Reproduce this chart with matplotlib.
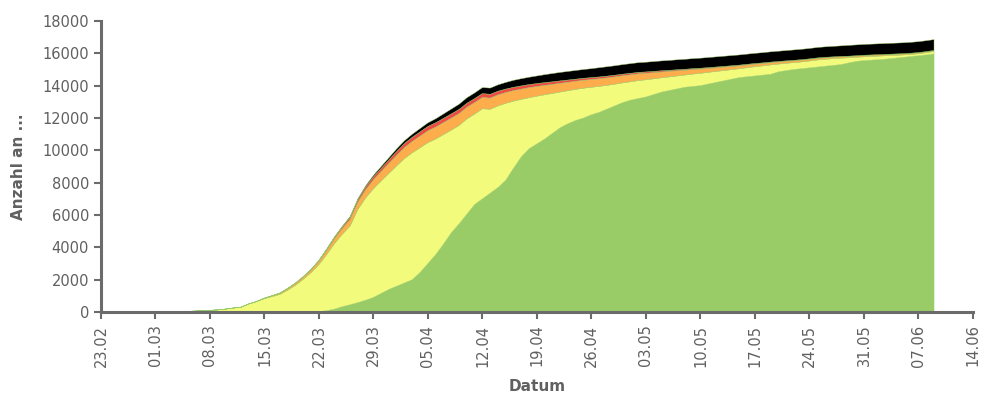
import matplotlib
matplotlib.use("Agg")
import matplotlib.pyplot as plt
import matplotlib.dates as mdates
import numpy as np
import pandas as pd

# daily values from 23.02 to 09.06
dates = pd.date_range("2020-02-23", periods=108, freq="D")

confirmed = [
    0, 0, 2, 3, 3, 5, 9, 14, 18, 24,
    29, 41, 55, 79, 104, 131, 182, 246, 302, 504,
    655, 860, 1016, 1180, 1470, 1800, 2200, 2650, 3200, 3900,
    4650, 5300, 5900, 7000, 7800, 8450, 9000, 9550, 10100, 10600,
    11000, 11350, 11700, 11950, 12250, 12550, 12850, 13250, 13550, 13880,
    13850, 14050, 14200, 14330, 14430, 14520, 14600, 14680, 14750, 14820,
    14880, 14940, 15000, 15050, 15110, 15170, 15230, 15300, 15360, 15420,
    15450, 15490, 15530, 15560, 15600, 15630, 15670, 15700, 15740, 15780,
    15820, 15860, 15900, 15950, 16000, 16040, 16090, 16130, 16170, 16210,
    16250, 16300, 16360, 16400, 16430, 16460, 16490, 16520, 16550, 16570,
    16590, 16610, 16630, 16650, 16680, 16720, 16780, 16850,
]
recovered = [
    0, 0, 0, 0, 0, 0, 0, 0, 0, 0,
    0, 0, 0, 0, 0, 0, 0, 0, 0, 0,
    0, 0, 0, 0, 0, 0, 9, 9, 30, 80,
    180, 330, 450, 580, 730, 900, 1150, 1400, 1600, 1800,
    2000, 2450, 3000, 3550, 4200, 4900, 5450, 6050, 6650, 7000,
    7350, 7700, 8150, 8900, 9600, 10100, 10400, 10700, 11050, 11400,
    11650, 11850, 12000, 12200, 12350, 12550, 12750, 12950, 13100, 13200,
    13300, 13450, 13600, 13700, 13800, 13900, 13950, 14000, 14100, 14200,
    14300, 14400, 14500, 14550, 14600, 14650, 14700, 14850, 14930, 15000,
    15050, 15100, 15150, 15200, 15250, 15300, 15400, 15500, 15550, 15580,
    15610, 15650, 15700, 15750, 15800, 15850, 15900, 15960,
]
hospital = [
    0, 0, 0, 0, 0, 0, 0, 0, 0, 0,
    0, 0, 0, 0, 0, 0, 0, 0, 0, 0,
    10, 30, 50, 70, 90, 110, 130, 160, 200, 250,
    300, 350, 400, 450, 500, 550, 580, 620, 650, 680,
    700, 720, 730, 740, 740, 740, 730, 720, 710, 700,
    690, 680, 665, 650, 635, 620, 600, 580, 560, 540,
    520, 500, 490, 480, 470, 460, 450, 440, 430, 420,
    400, 380, 360, 340, 320, 300, 280, 260, 240, 225,
    210, 195, 180, 170, 160, 150, 140, 130, 120, 115,
    110, 105, 100, 95, 90, 85, 80, 78, 75, 72,
    70, 68, 66, 64, 62, 60, 58, 56,
]
icu = [
    0, 0, 0, 0, 0, 0, 0, 0, 0, 0,
    0, 0, 0, 0, 0, 0, 0, 0, 0, 0,
    0, 5, 10, 15, 20, 25, 30, 40, 50, 70,
    90, 110, 130, 150, 170, 190, 200, 220, 240, 250,
    260, 265, 270, 265, 260, 265, 260, 250, 245, 240,
    235, 225, 215, 205, 200, 190, 180, 170, 160, 150,
    140, 130, 125, 120, 115, 110, 105, 100, 95, 90,
    85, 80, 75, 70, 65, 60, 58, 55, 52, 50,
    48, 46, 44, 42, 40, 38, 36, 34, 32, 30,
    29, 28, 27, 26, 25, 24, 23, 22, 21, 20,
    19, 18, 17, 16, 15, 14, 13, 12,
]
deaths = [
    0, 0, 0, 0, 0, 0, 0, 0, 0, 0,
    0, 0, 0, 0, 0, 0, 0, 0, 1, 1,
    1, 1, 1, 3, 3, 6, 7, 8, 16, 21,
    28, 30, 49, 58, 68, 86, 108, 128, 158, 168,
    186, 204, 220, 243, 273, 295, 319, 337, 350, 368,
    384, 393, 410, 431, 443, 452, 470, 491, 510, 522,
    530, 536, 542, 549, 569, 580, 584, 589, 596, 598,
    600, 606, 608, 609, 614, 615, 618, 620, 624, 626,
    626, 628, 628, 628, 629, 629, 632, 633, 635, 640,
    641, 643, 645, 645, 648, 652, 665, 668, 668, 668,
    669, 669, 670, 670, 670, 672, 672, 672,
]

# active cases not in hospital = confirmed minus the other groups
home = (np.array(confirmed) - np.array(recovered) - np.array(hospital)
        - np.array(icu) - np.array(deaths))

colors = ["#99CB67", "#F2FB7C", "#FDAD4C", "#EE4B45", "#000000"]
grey = "#606060"

fig = plt.figure(figsize=(9.92, 3.96), dpi=100)
ax = fig.add_axes([0.1018, 0.2121, 0.8790, 0.7349])

ax.stackplot(dates, recovered, home, hospital, icu, deaths,
             colors=colors, linewidth=0.3, edgecolors=colors)

ax.set_xlim(pd.Timestamp("2020-02-23"), pd.Timestamp("2020-06-14"))
ax.set_ylim(0, 18000)
ax.set_yticks(np.arange(0, 18001, 2000))
ax.set_xticks(pd.date_range("2020-02-23", "2020-06-14", freq="7D"))
ax.xaxis.set_major_formatter(mdates.DateFormatter("%d.%m"))

for s in ["top", "right"]:
    ax.spines[s].set_visible(False)
for s in ["left", "bottom"]:
    ax.spines[s].set_color("#6b6b6b")
    ax.spines[s].set_linewidth(2.2)

ax.tick_params(axis="both", colors="#6b6b6b", labelcolor=grey, labelsize=10.5,
               length=5, width=1.5, direction="out")
ax.tick_params(axis="x", labelrotation=90, pad=4)

ax.set_xlabel("Datum", fontsize=11, fontweight="bold", color=grey, labelpad=9)
ax.set_ylabel("Anzahl an ...", fontsize=11, fontweight="bold", color=grey, labelpad=12)

fig.savefig("out.png", dpi=100)
